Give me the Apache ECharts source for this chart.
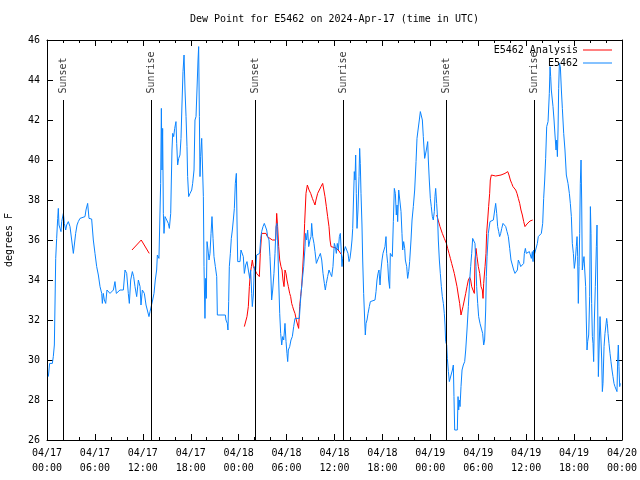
<!DOCTYPE html>
<html>
<head>
<meta charset="utf-8">
<script src="https://cdn.jsdelivr.net/npm/echarts@6/dist/echarts.min.js"></script>
<style>html,body{margin:0;padding:0;background:#fff;}#c{width:640px;height:480px;}</style>
</head>
<body>
<div id="c"></div>
<script>
// hours since 2024-04-17 00:00 UTC
var xTickLabels = ['04/17\n00:00','04/17\n06:00','04/17\n12:00','04/17\n18:00','04/18\n00:00','04/18\n06:00','04/18\n12:00','04/18\n18:00','04/19\n00:00','04/19\n06:00','04/19\n12:00','04/19\n18:00','04/20\n00:00'];

var sunT = [2.05, 13.1, 26.05, 37.1, 50.05, 61.05];
var sunLabels = ['Sunset','Sunrise','Sunset','Sunrise','Sunset','Sunrise'];

var blueT = [0.17,0.25,0.33,0.67,0.79,0.92,1.0,1.09,1.21,1.34,1.42,1.50,1.63,1.75,1.84,2.05,2.17,2.34,2.46,2.67,2.88,3.09,3.30,3.42,3.59,3.76,3.92,4.13,4.34,4.76,4.88,5.09,5.18,5.26,5.59,5.80,6.01,6.22,6.43,6.64,6.85,6.93,7.05,7.18,7.35,7.51,7.68,7.89,8.10,8.31,8.51,8.68,8.93,9.14,9.35,9.56,9.77,9.98,10.18,10.31,10.48,10.69,10.85,11.02,11.23,11.44,11.65,11.77,11.94,12.19,12.40,12.56,12.77,12.90,13.11,13.23,13.40,13.56,13.73,13.82,14.02,14.15,14.23,14.32,14.40,14.48,14.57,14.65,14.78,14.99,15.19,15.32,15.49,15.57,15.65,15.74,15.86,15.99,16.15,16.24,16.36,16.49,16.65,16.78,16.90,17.03,17.16,17.28,17.41,17.53,17.61,17.74,17.91,18.12,18.24,18.41,18.53,18.66,18.78,18.91,18.99,19.08,19.16,19.24,19.37,19.49,19.58,19.66,19.78,19.87,19.95,20.04,20.16,20.29,20.41,20.54,20.66,20.79,20.91,21.08,21.25,21.33,22.33,22.41,22.58,22.66,22.75,22.83,22.96,23.08,23.21,23.33,23.46,23.58,23.71,23.79,23.88,24.08,24.17,24.29,24.46,24.58,24.71,24.88,25.04,25.21,25.38,25.50,25.63,25.71,25.84,25.96,26.13,26.25,26.46,26.63,26.76,26.88,27.05,27.21,27.38,27.51,27.63,27.80,27.92,28.05,28.13,28.26,28.42,28.55,28.68,28.80,28.88,29.01,29.14,29.26,29.39,29.51,29.64,29.80,29.93,30.05,30.14,30.22,30.39,30.55,30.72,30.89,31.05,31.60,31.72,31.81,31.97,32.14,32.31,32.39,32.51,32.64,32.77,32.93,33.06,33.14,33.27,33.43,33.56,33.73,33.89,34.06,34.23,34.40,34.56,34.73,34.85,34.98,35.14,35.31,35.48,35.65,35.81,35.98,36.10,36.23,36.35,36.48,36.61,36.73,36.86,36.94,37.02,37.19,37.36,37.52,37.69,37.82,37.94,38.07,38.19,38.28,38.36,38.48,38.57,38.65,38.73,38.82,38.94,39.07,39.15,39.23,39.32,39.44,39.53,39.65,39.78,39.86,39.95,40.07,40.20,40.36,40.49,40.65,41.07,41.20,41.32,41.45,41.57,41.70,41.82,41.95,42.07,42.20,42.32,42.45,42.53,42.66,42.78,42.91,42.99,43.12,43.24,43.37,43.49,43.62,43.74,43.83,43.91,44.04,44.20,44.33,44.45,44.54,44.66,44.79,44.87,45.04,45.16,45.29,45.41,45.58,45.71,45.87,46.04,46.21,46.33,46.46,46.62,46.75,46.87,47.00,47.12,47.29,47.50,47.67,47.75,47.87,48.00,48.12,48.25,48.37,48.50,48.58,48.67,48.79,48.92,49.00,49.13,49.25,49.38,49.50,49.63,49.75,49.84,49.92,50.05,50.13,50.26,50.38,50.59,50.76,50.88,50.96,51.05,51.38,51.47,51.55,51.63,51.72,51.84,51.97,52.13,52.30,52.43,52.59,52.76,52.93,53.05,53.18,53.30,53.47,53.59,53.72,53.80,53.93,54.05,54.22,54.43,54.55,54.68,54.80,54.93,55.01,55.10,55.26,55.47,55.89,56.02,56.18,56.31,56.43,56.56,56.68,56.81,56.94,57.10,57.27,57.44,57.60,57.77,57.94,58.10,58.27,58.44,58.60,58.77,58.90,59.02,59.19,59.32,59.52,59.69,59.77,59.90,60.02,60.23,60.40,60.56,60.65,60.77,60.86,60.94,61.07,61.23,61.40,61.52,61.73,61.90,62.07,62.19,62.32,62.44,62.57,62.74,62.82,62.90,62.99,63.07,63.15,63.28,63.36,63.49,63.61,63.74,63.82,63.91,63.99,64.07,64.16,64.28,64.41,64.53,64.70,64.86,65.03,65.24,65.41,65.53,65.66,65.78,65.91,66.03,66.16,66.28,66.37,66.45,66.53,66.62,66.70,66.78,66.87,66.95,67.03,67.12,67.24,67.37,67.45,67.53,67.62,67.70,67.83,67.95,68.04,68.12,68.20,68.29,68.37,68.45,68.54,68.66,68.79,68.87,68.95,69.04,69.16,69.25,69.37,69.46,69.54,69.62,69.75,69.87,70.00,70.08,70.16,70.25,70.37,70.50,70.62,70.75,70.87,71.00,71.12,71.25,71.37,71.46,71.54,71.62,71.71,71.79];

var blueV = [29.17,29.5,29.83,29.83,30.17,30.75,32.75,35.08,36.08,37.08,37.58,36.75,36.58,36.42,36.92,37.33,36.83,36.5,36.75,36.92,36.67,36.0,35.33,35.25,36.33,36.75,36.92,37.08,37.17,37.17,37.5,37.83,37.92,37.08,37.05,36.0,35.33,34.67,34.25,33.67,33.33,32.83,33.33,33.0,32.83,33.5,33.42,33.33,33.33,33.5,33.92,33.33,33.25,33.5,33.42,33.5,34.5,34.33,33.33,32.83,34.0,34.42,34.17,33.67,33.17,34.0,33.67,32.75,33.5,33.33,32.75,32.67,32.17,32.42,32.33,33.0,33.33,34.0,34.5,35.25,35.08,35.0,38.83,42.58,39.5,41.58,37.33,36.33,37.17,37.0,36.83,36.58,37.33,39.0,40.5,41.33,41.17,41.58,41.92,40.83,39.75,40.08,40.25,41.08,42.75,44.42,45.25,43.5,42.17,40.67,39.17,38.17,38.33,38.5,38.83,39.5,42.0,42.17,43.5,45.0,45.67,42.17,39.17,40.17,41.08,41.0,38.17,34.67,32.08,34.08,33.08,35.92,35.5,35.0,35.33,36.33,37.17,36.08,35.17,34.67,34.17,32.25,32.25,32.0,31.83,31.5,32.92,34.67,35.33,36.08,36.5,37.0,37.58,38.83,39.33,37.0,34.92,35.0,34.92,35.5,35.58,35.17,34.33,34.75,34.92,34.5,34.08,34.5,33.33,32.67,33.25,34.67,34.5,35.25,35.17,35.33,36.08,36.42,36.67,36.83,36.92,36.5,36.17,36.0,35.17,34.0,33.0,33.5,34.33,35.33,36.67,36.83,36.0,34.0,32.33,31.33,30.75,31.17,31.0,31.83,30.92,30.33,29.92,30.5,30.67,31.0,31.17,31.67,32.08,32.08,32.83,33.33,34.0,34.67,35.67,36.33,36.0,36.5,35.67,36.0,36.17,36.83,36.17,35.83,35.42,34.83,35.0,35.17,35.33,35.0,34.33,33.83,33.5,33.83,34.17,34.5,34.33,34.17,34.67,35.83,35.67,35.33,35.83,35.5,36.17,36.33,35.33,34.67,35.08,35.42,35.67,35.58,35.33,34.92,35.08,35.5,36.0,36.58,37.75,39.42,39.0,40.25,38.33,36.58,37.5,39.17,40.58,39.83,38.33,36.75,35.0,33.33,32.0,31.25,31.83,32.0,32.33,32.67,32.92,33.0,33.0,33.42,34.0,34.33,34.5,33.75,34.5,35.0,35.33,35.42,35.67,36.17,35.33,34.83,34.0,33.58,35.33,35.25,35.17,36.92,38.58,38.33,37.25,37.75,36.92,38.5,38.58,37.42,36.33,35.5,35.92,35.58,35.0,34.67,34.08,34.42,34.92,36.0,37.0,37.67,38.5,39.92,41.08,41.5,42.0,42.42,42.5,42.0,41.17,40.08,40.5,40.92,40.0,39.0,38.08,37.67,37.17,37.0,37.42,38.17,38.58,37.83,37.0,36.0,35.0,34.33,33.67,33.17,32.83,32.33,31.75,30.92,30.75,30.08,29.42,28.92,29.0,29.5,29.75,28.17,26.5,26.5,28.17,27.5,28.0,27.67,28.67,29.5,29.75,29.92,30.5,31.5,32.67,34.0,34.67,35.33,36.08,36.0,35.83,34.67,33.67,32.83,32.17,31.83,31.83,31.33,30.75,31.0,32.5,34.17,35.17,36.33,36.92,37.0,37.08,37.83,37.33,36.67,36.42,36.17,36.33,36.58,36.83,36.75,36.67,36.42,36.17,35.58,35.0,34.92,34.5,34.33,34.33,34.5,35.0,34.83,34.67,34.58,34.83,35.33,35.58,35.33,35.33,35.42,35.5,35.08,35.42,34.92,35.5,35.33,35.42,35.83,36.17,36.17,36.33,36.83,38.08,39.0,40.08,41.67,41.92,42.0,43.33,44.67,44.17,43.5,43.5,42.67,42.0,41.25,40.5,41.0,40.17,41.5,43.58,44.83,44.67,43.5,42.58,41.33,40.5,39.25,38.83,38.33,37.83,37.17,35.83,35.33,34.58,35.0,35.67,36.17,35.17,32.83,34.67,36.33,38.83,40.0,38.0,34.5,34.83,35.17,35.08,33.67,32.0,30.5,30.92,31.25,33.17,37.67,36.33,32.83,31.17,30.83,29.92,32.0,33.67,35.67,36.75,33.0,29.17,31.0,32.17,31.0,30.0,28.42,28.83,30.67,31.33,31.42,32.08,31.83,31.33,30.83,30.33,29.92,29.5,29.17,28.83,28.67,28.58,28.42,30.0,30.75,29.67,28.67,28.83];

// null marks a gap in the analysis series
var redT = [10.64,11.8,12.8,18,24.71,24.96,25.04,25.21,25.34,25.46,25.59,25.71,25.84,26.05,26.25,26.46,26.59,26.71,26.88,27.42,27.59,27.92,28.22,28.47,28.64,28.76,28.88,29.01,29.14,29.30,29.43,29.55,29.68,29.80,29.93,30.05,30.22,30.39,30.51,30.64,30.76,30.89,31.05,31.22,31.39,31.51,31.64,31.76,31.89,32.01,32.14,32.26,32.43,32.60,32.81,33.02,33.23,33.39,33.56,33.68,33.89,34.10,34.31,34.52,34.69,34.81,34.98,35.14,35.31,35.44,35.56,35.81,36.19,36.56,36.81,43,48.79,48.92,49.21,49.50,49.75,50.01,50.17,50.34,50.51,50.67,50.84,51.00,51.17,51.34,51.50,51.67,51.84,51.97,52.09,52.26,52.43,52.59,52.76,52.93,53.05,53.18,53.34,53.51,53.59,53.72,53.84,54.01,54.18,54.35,54.51,54.60,54.68,54.85,54.97,55.05,55.18,55.30,55.43,55.51,55.64,56.18,56.85,57.35,57.69,57.85,58.02,58.19,58.35,58.52,58.69,58.85,59.02,59.19,59.35,59.52,59.69,59.85,60.10,60.48,60.82];

var redV = [35.5,36.0,35.33,null,31.67,31.7,32.17,32.67,33.67,34.33,34.67,35.0,34.67,34.5,34.33,34.25,34.17,35.33,36.33,36.33,36.17,36.08,36.0,35.92,36.0,37.33,36.67,35.67,35.0,34.67,34.5,34.0,33.67,34.5,34.33,34.0,33.67,33.33,33.17,32.83,32.67,32.5,32.33,32.0,31.75,31.58,32.67,33.17,33.67,34.5,35.5,36.83,38.33,38.75,38.5,38.33,38.08,37.92,37.75,38.0,38.33,38.5,38.67,38.83,38.92,38.17,37.67,37.17,36.67,36.0,35.67,35.6,35.6,35.45,35.3,null,37.25,37.08,36.67,36.33,36.08,35.83,35.58,35.33,35.08,34.83,34.58,34.33,34.0,33.67,33.25,32.83,32.25,32.17,32.67,33.0,33.33,33.67,34.0,34.13,34.0,33.67,33.5,33.33,35.0,35.58,35.17,34.67,34.33,33.67,33.5,33.08,33.83,34.67,35.33,36.33,37.0,37.67,38.33,39.0,39.25,39.2,39.25,39.33,39.42,39.25,39.0,38.83,38.67,38.58,38.5,38.33,38.08,37.83,37.5,37.25,36.92,36.67,36.8,36.95,37.0];

var FONT = 'DejaVu Sans Mono';

function pairs(t, v) { return t.map(function (x, i) { return [x, v[i]]; }); }

var chart = echarts.init(document.getElementById('c'), null, { renderer: 'canvas' });

var axisX = function (pos, showLabel) {
  return {
    type: 'value', position: pos, min: 0, max: 72, interval: 6,
    axisLine: { show: true, onZero: false, lineStyle: { color: '#000', width: 1 } },
    axisTick: { show: true, inside: true, length: 6, lineStyle: { color: '#000' } },
    minorTick: { show: true, splitNumber: 3, length: 3, lineStyle: { color: '#000' } },
    splitLine: { show: false },
    axisLabel: {
      show: showLabel, margin: 6, color: '#000', fontFamily: FONT, fontSize: 10, lineHeight: 15,
      showMinLabel: true, showMaxLabel: true, hideOverlap: false,
      formatter: function (v) { return xTickLabels[Math.round(v / 6)]; }
    }
  };
};
var axisY = function (pos, showLabel) {
  return {
    type: 'value', position: pos, min: 26, max: 46, interval: 2,
    name: showLabel ? 'degrees F' : '', nameLocation: 'middle', nameGap: 33,
    nameTextStyle: { color: '#000', fontFamily: FONT, fontSize: 10 },
    axisLine: { show: true, onZero: false, lineStyle: { color: '#000', width: 1 } },
    axisTick: { show: true, inside: true, length: 6, lineStyle: { color: '#000' } },
    splitLine: { show: false },
    axisLabel: { show: showLabel, margin: 7, color: '#000', fontFamily: FONT, fontSize: 10 }
  };
};

chart.setOption({
  animation: false,
  backgroundColor: '#fff',
  title: {
    text: 'Dew Point for E5462 on 2024-Apr-17 (time in UTC)',
    left: 190, top: 14, padding: 0,
    textStyle: { color: '#000', fontFamily: FONT, fontSize: 10, fontWeight: 'normal' }
  },
  legend: {
    data: [{ name: 'E5462 Analysis', icon: 'rect' }, { name: 'E5462', icon: 'rect' }],
    orient: 'vertical', align: 'right', right: 28, top: 44, padding: 0,
    itemWidth: 29, itemHeight: 1, itemGap: 1, selectedMode: false,
    textStyle: { color: '#000', fontFamily: FONT, fontSize: 10, lineHeight: 12 }
  },
  grid: { left: 47, right: 18, top: 40, bottom: 40, containLabel: false, outerBoundsMode: 'none' },
  xAxis: [axisX('bottom', true), axisX('top', false)],
  yAxis: [axisY('left', true), axisY('right', false)],
  series: [
    {
      name: 'E5462 Analysis', type: 'line', symbol: 'none', connectNulls: false,
      lineStyle: { color: '#ff0000', width: 1 }, itemStyle: { color: '#ff0000' },
      data: pairs(redT, redV), z: 2
    },
    {
      name: 'E5462', type: 'line', symbol: 'none',
      lineStyle: { color: '#0a84ff', width: 1 }, itemStyle: { color: '#0a84ff' },
      data: pairs(blueT, blueV), z: 3
    },
    {
      name: 'sun', type: 'scatter', symbolSize: 1, silent: true,
      itemStyle: { color: 'rgba(0,0,0,0)' },
      data: sunT.map(function (t, i) { return { name: sunLabels[i], value: [t, 43] }; }),
      label: {
        show: true, formatter: '{b}', position: 'top', distance: 6, rotate: 90,
        align: 'left', verticalAlign: 'middle',
        color: '#000', fontFamily: FONT, fontSize: 10
      },
      markLine: {
        silent: true, symbol: ['none', 'none'], animation: false,
        label: { show: false },
        lineStyle: { color: '#000', width: 1, type: 'solid' },
        data: sunT.map(function (t) { return [{ coord: [t, 26] }, { coord: [t, 43] }]; })
      },
      z: 4
    }
  ]
});
</script>
</body>
</html>
